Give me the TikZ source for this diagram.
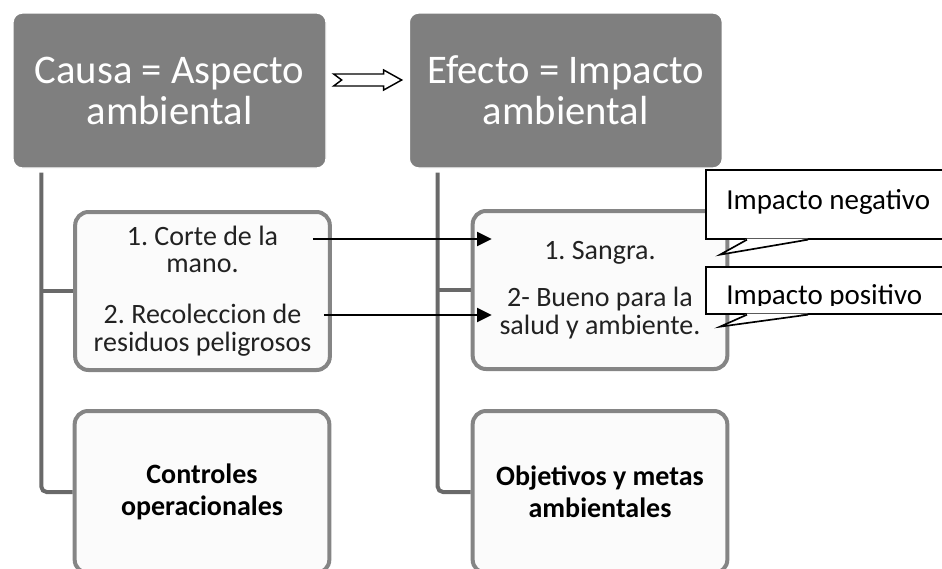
\documentclass[tikz,border=0pt]{standalone}
\usepackage{fontspec}
\setmainfont{Carlito}
\usepackage{tikz}
\usetikzlibrary{arrows.meta,positioning,calc}
\definecolor{Header}{HTML}{7F7F7F}
\definecolor{Trunk}{HTML}{696969}
\definecolor{Frame}{HTML}{858585}
\definecolor{Ink}{HTML}{222222}
\frenchspacing

\begin{document}
\begin{tikzpicture}[
  x=0.75pt,y=-0.75pt,
  cabecera/.style={fill=Header,draw=white,line width=1pt,rounded corners=7pt,minimum width=234.75pt,minimum height=116.25pt,align=center,text=white,font=\fontsize{30.5}{30.75}\selectfont},
  caja/.style={draw=Frame,fill=gray!3,line width=3pt,rounded corners=10pt,minimum width=191pt,minimum height=118.5pt,align=center,text=Ink,font=\fontsize{21}{20.5}\selectfont},
  meta/.style={text=black,font=\bfseries\fontsize{21}{24}\selectfont},
  tronco/.style={draw=Trunk,line width=3pt,rounded corners=4pt},
  flecha/.style={-{Triangle[length=11pt,width=10.5pt]},line width=1.5pt},
  doble/.style={draw=black,fill=white,line width=1.1pt},
  nota/.style={draw=black,fill=white,line width=1.25pt,anchor=north west,minimum width=191.25pt},
  notatexto/.style={anchor=base west,inner sep=0pt,font=\fontsize{21.75}{24}\selectfont},
  puntero/.style={draw=black,line width=1.25pt}
]
\useasboundingbox (0,0) rectangle (942,568);

% cabeceras
\node[cabecera] (causa) at (169.5,90.5) {Causa = Aspecto\\ambiental};
\node[cabecera,right=61.5pt of causa] (efecto) {Efecto = Impacto\\ambiental};

% cajas de cada columna
\node[caja] (causas) at (202.5,291) {1. Corte de la\\mano.\\[18pt]2. Recoleccion de\\residuos peligrosos};
\node[caja] (efectos) at (600,290) {1. Sangra.\\[15pt]2- Bueno para la\\salud y ambiente.};
\node[caja,meta,minimum height=121.5pt] (controles) at (202,492) {Controles\\operacionales};
\node[caja,meta,minimum height=121.5pt] (objetivos) at (600,492) {Objetivos y metas\\ambientales};

% troncos
\coordinate (ltop) at ($(causa.south west)+(29,4)$);
\coordinate (rtop) at ($(efecto.south west)+(29,4)$);
\draw[tronco] (ltop) |- (controles.west);
\draw[tronco] (ltop |- causas.west) -- (causas.west);
\draw[tronco] (rtop) |- (objetivos.west);
\draw[tronco] (rtop |- efectos.west) -- (efectos.west);

% flecha doble entre cabeceras
\coordinate (medio) at ($(causa.east)!.5!(efecto.west)+(0,-10.5)$);
\draw[doble,shift={(medio)}] (-34,-6) -- (16,-6) -- (16,-10) -- (34,0) -- (16,10) -- (16,6) -- (-34,6) -- (-26,0) -- cycle;

% relaciones causa -> efecto
\coordinate (c1) at ($(causas.east)+(-19,-52)$);
\coordinate (c2) at ($(causas.east)+(-8,24)$);
\coordinate (e1) at ($(efectos.west)+(21,-51)$);
\coordinate (e2) at ($(efectos.west)+(21,25)$);
\draw[flecha] (c1) -- (e1);
\draw[flecha] (c2) -- (e2);

% notas
\node[nota,minimum height=51.75pt] (negativo) at (705,169) {};
\fill[white] ($(negativo.south west)+(42,-1)$) -- ($(negativo.south west)+(15,15)$) -- ($(negativo.south west)+(103,-1)$) -- cycle;
\draw[puntero] ($(negativo.south west)+(42,0)$) -- ($(negativo.south west)+(15,15)$) -- ($(negativo.south west)+(103,0)$);
\node[notatexto] (txtnegativo) at ($(negativo.west)+(21,5)$) {Impacto negativo};

\node[nota,minimum height=35.25pt] (positivo) at (705,266) {};
\fill[white] ($(positivo.south west)+(42,-1)$) -- ($(positivo.south west)+(15,12)$) -- ($(positivo.south west)+(103,-1)$) -- cycle;
\draw[puntero] ($(positivo.south west)+(42,0)$) -- ($(positivo.south west)+(15,12)$) -- ($(positivo.south west)+(103,0)$);
\begin{scope}
\clip ($(positivo.north west)+(2,2)$) rectangle ($(positivo.west)+(300,15.5)$);
\node[notatexto] (txtpositivo) at ($(positivo.west)+(21,14.5)$) {Impacto positivo};
\end{scope}
\end{tikzpicture}
\end{document}
